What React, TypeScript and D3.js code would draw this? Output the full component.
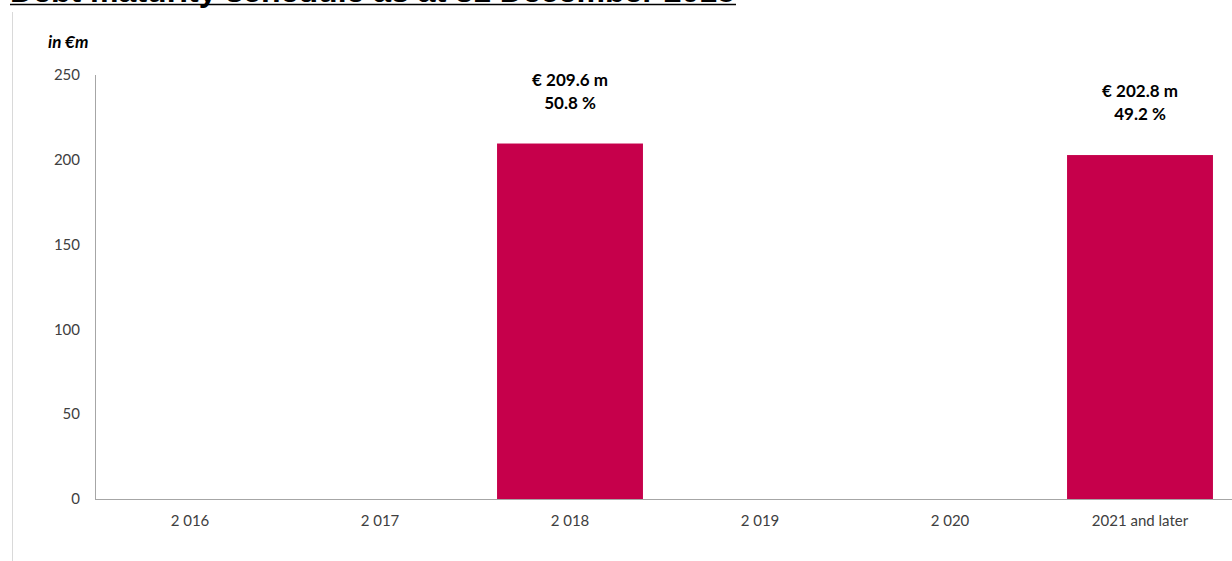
import React from "react";
import * as d3 from "d3";

const categories = ["2 016", "2 017", "2 018", "2 019", "2 020", "2021 and later"];
const values = [0, 0, 209.6, 0, 0, 202.8];
const shares = ["", "", "50.8 %", "", "", "49.2 %"];
const yTicks = [0, 50, 100, 150, 200, 250];
const title = "Debt maturity schedule as at 31 December 2015";
const unitLabel = "in €m";

export default function App() {
  const W = 1232, H = 561;
  const x = d3.scaleBand<string>().domain(categories).range([95, 1235]).paddingInner(0.232).paddingOuter(0.116);
  const y = d3.scaleLinear().domain([0, 250]).range([499, 75]);
  const font = "Lato, 'Open Sans', sans-serif";
  return (
    <svg width={W} height={H} style={{ position: "absolute", left: 0, top: 0, background: "#fff" }}>
      <text x={10} y={2} textLength={725} lengthAdjust="spacingAndGlyphs" fontFamily="'Liberation Sans', Arial, sans-serif" fontWeight="bold" fontSize={30} fill="#000">{title}</text>
      <line x1={10} x2={736} y1={4.5} y2={4.5} stroke="#000" strokeWidth={1.6} />
      <line x1={12.5} x2={12.5} y1={12} y2={561} stroke="#d9d9d9" />
      <text x={48} y={48} fontFamily={font} fontStyle="italic" fontWeight="bold" fontSize={17} fill="#000">{unitLabel}</text>
      {yTicks.map(t => (
        <text key={t} x={80} y={y(t)} dy="0.35em" textAnchor="end" fontFamily={font} fontSize={15} fill="#404040">{t}</text>
      ))}
      {categories.map((c, i) => values[i] > 0 ? (
        <rect key={c} x={x(c)} y={y(values[i])} width={x.bandwidth()} height={y(0) - y(values[i])} fill="#c6004b" />
      ) : null)}
      <line x1={95.5} x2={95.5} y1={75} y2={499} stroke="#a6a6a6" />
      <line x1={95} x2={1232} y1={499.5} y2={499.5} stroke="#a6a6a6" />
      {categories.map(c => (
        <text key={c} x={(x(c) as number) + x.bandwidth() / 2} y={521} dy="0.35em" textAnchor="middle" fontFamily={font} fontSize={15} fill="#404040">{c}</text>
      ))}
      {categories.map((c, i) => values[i] > 0 ? (
        <g key={c} fontFamily={font} fontWeight="bold" fontSize={17} fill="#000" textAnchor="middle">
          <text x={(x(c) as number) + x.bandwidth() / 2} y={y(values[i]) - 58}>{`€ ${d3.format(".1f")(values[i])} m`}</text>
          <text x={(x(c) as number) + x.bandwidth() / 2} y={y(values[i]) - 35}>{shares[i]}</text>
        </g>
      ) : null)}
    </svg>
  );
}
